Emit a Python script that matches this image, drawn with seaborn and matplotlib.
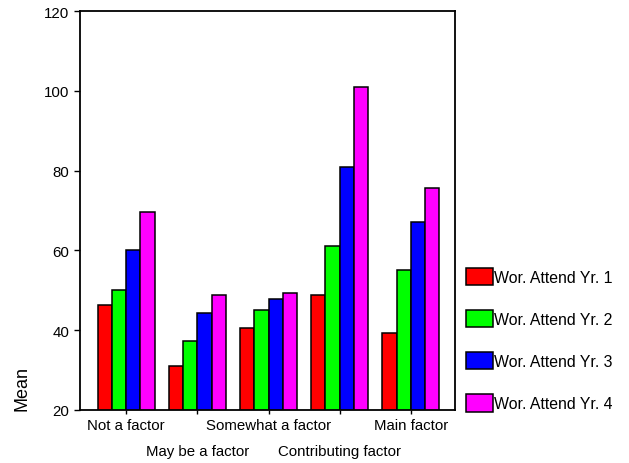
import matplotlib.pyplot as plt
import seaborn as sns
import pandas as pd

# Data
categories = ["Not a factor", "May be a factor", "Somewhat a factor",
              "Contributing factor", "Main factor"]
series = ["Wor. Attend Yr. 1", "Wor. Attend Yr. 2",
          "Wor. Attend Yr. 3", "Wor. Attend Yr. 4"]
yr1 = [46.2, 31.0, 40.6, 48.7, 39.4]
yr2 = [50.0, 37.4, 45.1, 61.2, 55.0]
yr3 = [60.2, 44.4, 47.9, 81.0, 67.0]
yr4 = [69.7, 48.7, 49.3, 101.0, 75.7]
colors = ["#ff0000", "#00ff00", "#0000ff", "#ff00ff"]

rows = []
for name, vals in zip(series, [yr1, yr2, yr3, yr4]):
    for cat, v in zip(categories, vals):
        rows.append({"factor": cat, "series": name, "mean": v})
df = pd.DataFrame(rows)

sns.set_theme(style="white")
plt.rcParams["font.family"] = ["Liberation Sans", "DejaVu Sans"]
plt.rcParams["text.color"] = "black"
plt.rcParams["axes.labelcolor"] = "black"

fig = plt.figure(figsize=(6.29, 4.64), dpi=100)
ax = fig.add_axes([80 / 629, 1 - 411 / 464, 375 / 629, 399 / 464])

sns.barplot(data=df, x="factor", y="mean", hue="series", order=categories,
            hue_order=series, palette=colors, width=0.8, gap=0,
            edgecolor="black", linewidth=1.1, saturation=1, ax=ax)

handles, labels = ax.get_legend_handles_labels()
ax.legend_.remove()

ax.set_ylim(20, 120)
ax.set_yticks([20, 40, 60, 80, 100, 120])
ax.set_xlim(-0.65, 4.62)
ax.set_xlabel("")
ax.set_ylabel("Mean", fontsize=13, loc="bottom")
ax.yaxis.set_label_coords(-0.133, 0)

for sp in ax.spines.values():
    sp.set_color("black")
    sp.set_linewidth(1.3)

ax.tick_params(axis="y", direction="out", length=4, width=1, pad=3.5,
               labelsize=10.8, left=True, colors="black")
ax.tick_params(axis="x", direction="out", length=3, width=1, pad=3,
               labelsize=10.8, bottom=True, colors="black")
# staggered category labels
for t in ax.xaxis.get_major_ticks()[1::2]:
    t.set_pad(21.5)

fig.legend(handles, labels, loc="upper left",
           bbox_to_anchor=(466 / 629, 1 - 269 / 464), frameon=False,
           borderpad=0, borderaxespad=0, handlelength=1.7,
           handleheight=1.3, handletextpad=0.05, labelspacing=1.57,
           fontsize=11.4)

plt.savefig("out.png", dpi=100)
